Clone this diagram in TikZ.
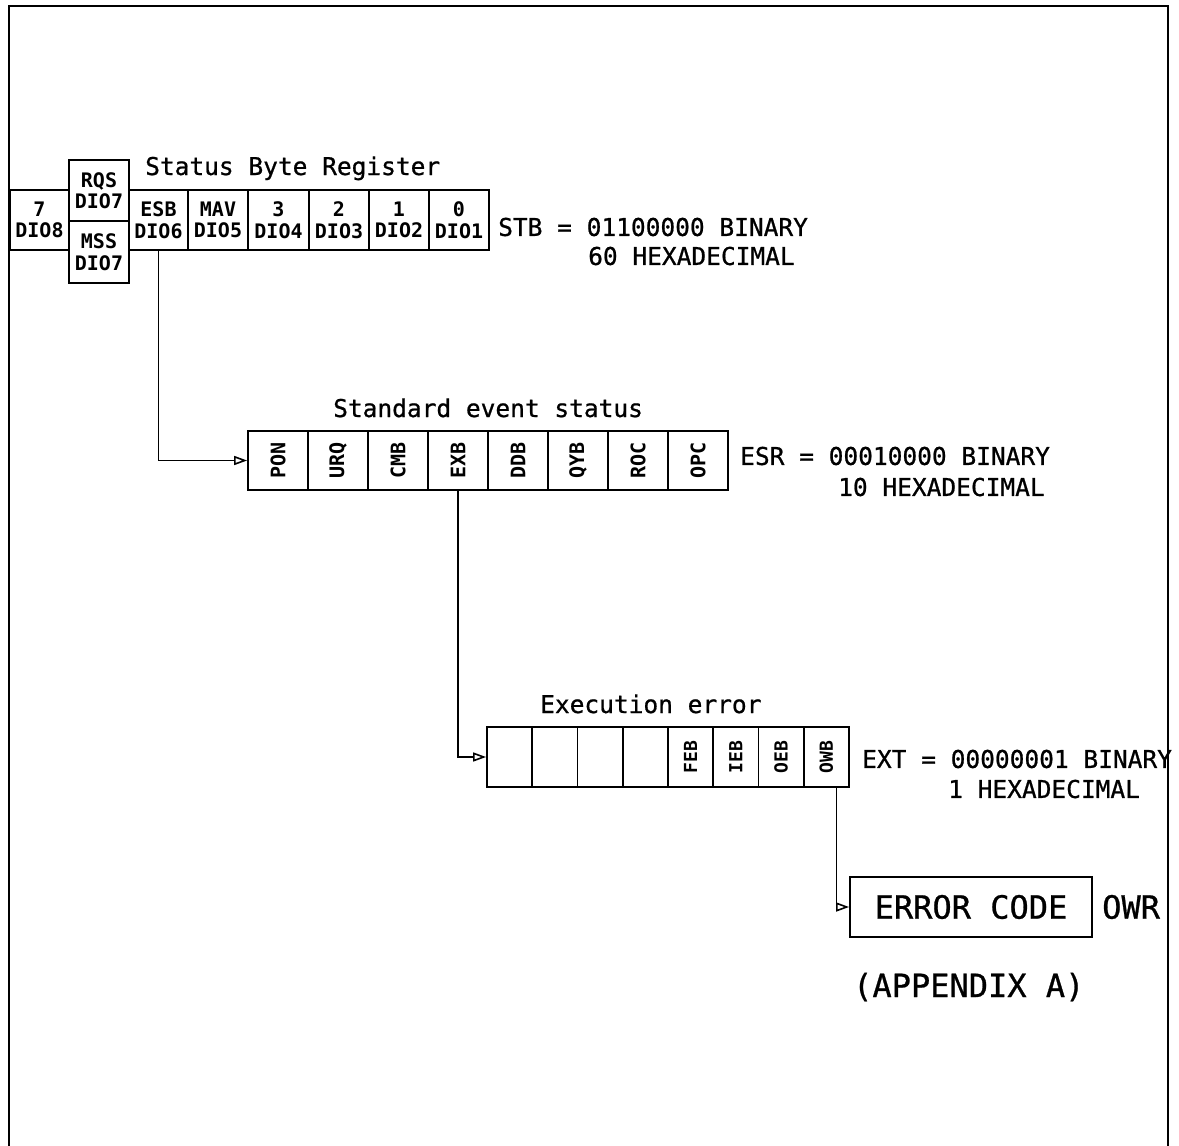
\documentclass[tikz,border=0pt]{standalone}
\usepackage{fontspec}
\setmainfont{DejaVu Sans Mono}
% slightly heavier face for titles and register values
\newfontfamily\medmono{DejaVu Sans Mono}[FakeBold=0.8]
\usetikzlibrary{arrows.meta,calc}

\tikzset{
  frameline/.style={line width=2.2pt},
  sbcell/.style={draw, line width=1.8pt, minimum width=60pt, minimum height=60pt,
    inner sep=0pt, align=center, font=\fontsize{20}{21.5}\selectfont\bfseries},
  escell/.style={draw, line width=1.8pt, minimum width=60pt, minimum height=59pt,
    inner sep=0pt, font=\fontsize{20}{22}\selectfont\bfseries},
  excell/.style={draw, line width=1.8pt, minimum width=45.25pt, minimum height=60pt,
    inner sep=0pt, font=\fontsize{18}{20}\selectfont\bfseries},
  title/.style={anchor=base west, inner sep=0pt, font=\medmono\fontsize{24.5}{29}\selectfont},
  value/.style={anchor=west, inner sep=0pt, font=\medmono\fontsize{24.5}{29}\selectfont},
  big/.style={inner sep=0pt, font=\medmono\fontsize{32}{36}\selectfont},
  link/.style={line width=1.8pt, -{Triangle[open, length=13pt, width=9pt, line width=1.6pt]}},
}

\begin{document}
\begin{tikzpicture}[x=1pt, y=-1pt]
\useasboundingbox (0,0) rectangle (1179,1146);

% outer frame, open at the bottom
\draw[frameline] (9,1146) -- (9,6) -- (1168,6) -- (1168,1146);

% ---- Status Byte Register ----
\node[title] (sbtitle) at (145,175) {Status Byte Register};
\node[sbcell, minimum width=59pt] (s7) at (39.5,220) {7\\DIO8};
\node[sbcell, minimum height=61pt] (rqs) at (99,190.5) {RQS\\DIO7};
\node[sbcell, minimum height=62pt] (mss) at (99,252) {MSS\\DIO7};
\node[sbcell, minimum width=59pt] (esb) at (158.5,220) {ESB\\DIO6};
\node[sbcell] (mav) at (218,220) {MAV\\DIO5};
\node[sbcell] (s3) at (278.5,220) {3\\DIO4};
\node[sbcell] (s2) at (339,220) {2\\DIO3};
\node[sbcell] (s1) at (399,220) {1\\DIO2};
\node[sbcell] (s0) at (459,220) {0\\DIO1};
\node[value] (stb1) at (498,227) {STB = 01100000 BINARY};
\node[value] (stb2) at (588,256) {60 HEXADECIMAL};

% ---- Standard event status ----
\node[title] (estitle) at (333,417) {Standard event status};
\node[escell] (pon) at (278,460.5) {\rotatebox{90}{PON}};
\node[escell] (urq) at (338,460.5) {\rotatebox{90}{URQ}};
\node[escell] (cmb) at (398,460.5) {\rotatebox{90}{CMB}};
\node[escell] (exb) at (458,460.5) {\rotatebox{90}{EXB}};
\node[escell] (ddb) at (518,460.5) {\rotatebox{90}{DDB}};
\node[escell] (qyb) at (578,460.5) {\rotatebox{90}{QYB}};
\node[escell] (roc) at (638,460.5) {\rotatebox{90}{ROC}};
\node[escell] (opc) at (698,460.5) {\rotatebox{90}{OPC}};
\node[value] (esr1) at (740,456) {ESR = 00010000 BINARY};
\node[value] (esr2) at (838,487) {10 HEXADECIMAL};

% ---- Execution error ----
\node[title] (extitle) at (540,713) {Execution error};
\node[excell] (e1) at (509.6,757) {};
\node[excell] (e2) at (554.9,757) {};
\node[excell] (e3) at (600.1,757) {};
\node[excell] (e4) at (645.4,757) {};
\node[excell] (feb) at (690.6,757) {\rotatebox{90}{FEB}};
\node[excell] (ieb) at (735.9,757) {\rotatebox{90}{IEB}};
\node[excell] (oeb) at (781.1,757) {\rotatebox{90}{OEB}};
\node[excell] (owb) at (826.4,757) {\rotatebox{90}{OWB}};
\node[value] (ext1) at (862,759) {EXT = 00000001 BINARY};
\node[value] (ext2) at (948,789) {1 HEXADECIMAL};

% ---- Error code register ----
\node[big, draw, line width=1.8pt, minimum width=242pt, minimum height=60pt] (err) at (971,907) {ERROR CODE};
\node[big, anchor=west] (owr) at (1102,907) {OWR};
\node[big, anchor=west] (appx) at (853,987) {(APPENDIX A)};

% ---- summary links ----
\draw[link] (esb.south) |- (pon.west);
\draw[link] (exb.south) |- (e1.west);
\draw[link] ([xshift=10pt]owb.south) |- (err.west);
\end{tikzpicture}
\end{document}
